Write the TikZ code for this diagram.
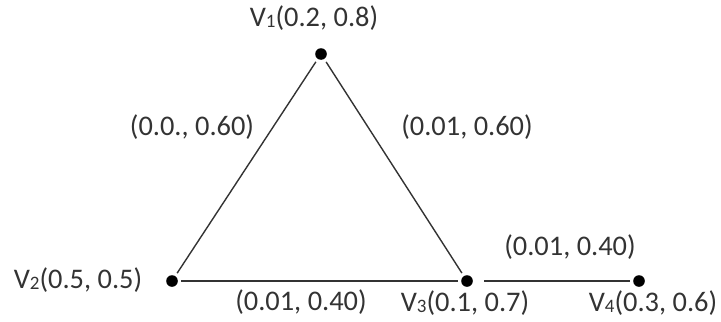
\documentclass[tikz,border=0pt]{standalone}
\usepackage{fontspec}
\setmainfont{Carlito}
\usetikzlibrary{positioning}
\newcommand{\vsub}[1]{\raisebox{-0.1ex}{\fontsize{9.5}{10}\selectfont #1}}

\begin{document}
\begin{tikzpicture}[x=0.5pt,y=-0.5pt,
  dot/.style={circle,fill=black,inner sep=0pt,minimum size=5.8pt,outer sep=1.8pt},
  lbl/.style={font=\fontsize{14.2}{16}\selectfont,text=black!80,inner sep=0pt},
  edge/.style={draw=black!80,line width=0.7pt}]
  \useasboundingbox (0,0) rectangle (721,321);

  % ---------- vertices ----------
  \node[dot] (v1) at (321,54) {};
  \node[dot] (v2) at (172,281) {};
  \node[dot] (v3) at (467,281) {};
  \node[dot] (v4) at (639,281) {};

  \node[lbl] (l1) at (314,18) {V\vsub{1}(0.2, 0.8)};
  \node[lbl] (l2) at (78,280) {V\vsub{2}(0.5, 0.5)};
  \node[lbl] (l3) at (465,303) {V\vsub{3}(0.1, 0.7)};
  \node[lbl] (l4) at (653,303) {V\vsub{4}(0.3, 0.6)};

  % ---------- edges ----------
  \draw[edge] (v1)--(v2); \draw[edge] (v1)--(v3);
  \draw[edge] (v2)--(v3); \draw[edge,shorten <=4pt] (v3)--(v4);

  \node[lbl] (e12) at (192,127) {(0.0., 0.60)};
  \node[lbl] (e13) at (467,127) {(0.01, 0.60)};
  \node[lbl] (e23) at (301,302) {(0.01, 0.40)};
  \node[lbl] (e34) at (570,247) {(0.01, 0.40)};
\end{tikzpicture}
\end{document}
